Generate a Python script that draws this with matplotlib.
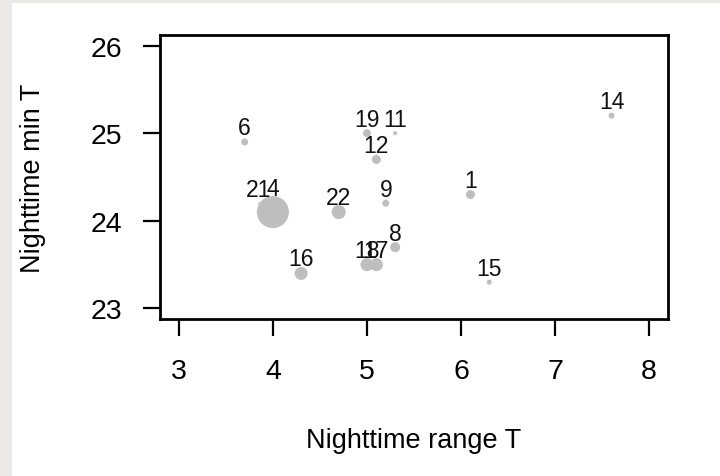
import numpy as np
import matplotlib.pyplot as plt
from matplotlib.patches import Rectangle

plt.rcParams['font.family'] = ['Liberation Sans', 'DejaVu Sans']

# site ids, nighttime range / min temperature, bubble radius (relative)
ids = ["21", "1", "4", "6", "8", "9", "11", "12", "14", "15", "16", "17", "18", "19", "22"]
night_range = [3.85, 6.1, 4.0, 3.7, 5.3, 5.2, 5.3, 5.1, 7.6, 6.3, 4.3, 5.1, 5.0, 5.0, 4.7]
night_min = [24.2, 24.3, 24.1, 24.9, 23.7, 24.2, 25.0, 24.7, 25.2, 23.3, 23.4, 23.5, 23.5, 25.0, 24.1]
radius = [1, 4.5, 16, 3.5, 5, 3.5, 2, 4.5, 3, 2.5, 6.5, 6.5, 6.5, 4, 7]

x_ticks = [3, 4, 5, 6, 7, 8]
y_ticks = [23, 24, 25, 26]

fig = plt.figure(figsize=(7.2, 4.77), dpi=100)
fig.patch.set_facecolor("#ECE9E6")
fig.add_artist(Rectangle((12 / 720, 0), 1, 1 - 4 / 477, transform=fig.transFigure,
                         facecolor="white", edgecolor="none", zorder=-5))

ax = fig.add_axes([160 / 720, 1 - 320 / 477, 508 / 720, 284 / 477])
ax.set_zorder(1)
ax.set_xlim(2.8, 8.2)
ax.set_ylim(22.88, 26.12)

px2pt = 0.72
r = np.array(radius)
ax.scatter(night_range, night_min, s=(2 * r * px2pt) ** 2, color="#BEBEBE",
           edgecolors="none", zorder=2)

for lab, x, y, rr in zip(ids, night_range, night_min, radius):
    off = max(14, rr + 8) * px2pt
    ax.annotate(lab, (x, y), xytext=(0, off), textcoords="offset points",
                ha="center", va="center", fontsize=16.5, color="#111111", zorder=3)

ax.set_xticks(x_ticks)
ax.set_yticks(y_ticks)
ax.tick_params(axis="both", direction="out", length=12, width=1.6, labelsize=20.5, pad=15)
ax.tick_params(axis="x", pad=16)
for sp in ax.spines.values():
    sp.set_linewidth(2)

ax.set_xlabel("Nighttime range T", fontsize=19.5, labelpad=31)
ax.set_ylabel("Nighttime min T", fontsize=19.5, labelpad=32)

fig.savefig("out.png", dpi=100)
